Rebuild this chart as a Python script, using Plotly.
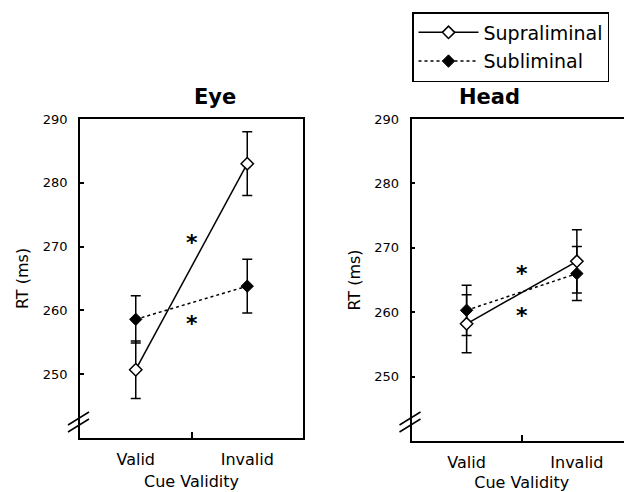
import plotly.graph_objects as go

# ---- data ----
conditions = ["Valid", "Invalid"]
eye_supra = [250.7, 283.0]
eye_supra_err = [4.5, 5.0]
eye_sub = [258.6, 263.8]
eye_sub_err = [3.7, 4.2]
head_supra = [258.2, 267.9]
head_supra_err = [4.5, 4.9]
head_sub = [260.3, 266.0]
head_sub_err = [3.9, 4.2]
y_ticks = [250, 260, 270, 280, 290]
panel_titles = ["Eye", "Head"]
series_names = ["Supraliminal", "Subliminal"]
# significance asterisks (x position between conditions, y value)
eye_stars_y = [271.0, 258.2]
head_stars_y = [266.1, 259.7]

FONT = "DejaVu Sans, Verdana, sans-serif"
OFF = 8                      # page body margin offset
W, H = 632 - OFF, 492 - OFF  # figure size

def px(xs):  # screen x -> paper
    return (xs - OFF) / W

def py(ys):  # screen y -> paper
    return 1 - (ys - OFF) / H

xpos = list(range(len(conditions)))

fig = go.Figure()

def add_panel(xa, ya, supra, supra_err, sub, sub_err, show):
    fig.add_trace(go.Scatter(
        x=xpos, y=sub, name=series_names[1], legendgroup="sub", legendrank=2, showlegend=show,
        mode="lines+markers", xaxis=xa, yaxis=ya,
        line=dict(color="black", width=1.5, dash="3px,3px"),
        marker=dict(symbol="diamond", size=9.5, color="black", line=dict(color="black", width=1)),
        error_y=dict(type="data", array=sub_err, color="black", thickness=1.5, width=5),
    ))
    fig.add_trace(go.Scatter(
        x=xpos, y=supra, name=series_names[0], legendgroup="supra", legendrank=1, showlegend=show,
        mode="lines+markers", xaxis=xa, yaxis=ya,
        line=dict(color="black", width=1.5),
        marker=dict(symbol="diamond", size=9.5, color="white", line=dict(color="black", width=1.5)),
        error_y=dict(type="data", array=supra_err, color="black", thickness=1.5, width=5),
    ))

add_panel("x", "y", eye_supra, eye_supra_err, eye_sub, eye_sub_err, True)
add_panel("x2", "y2", head_supra, head_supra_err, head_sub, head_sub_err, False)

ydom1 = [py(438), py(119)]
ydom2 = [py(441), py(119)]
xdom1 = [px(80), px(303)]
xdom2 = [px(411.5), 1.0]

def xaxis(dom, anchor):
    return dict(domain=dom, range=[-0.5, 1.5], tickvals=xpos, ticktext=conditions, anchor=anchor,
                ticks="", showline=True, linecolor="black", linewidth=1.5, mirror=True,
                showgrid=False, zeroline=False, fixedrange=True, automargin=False,
                tickfont=dict(family=FONT, size=16, color="black"),
                minor=dict(tickvals=[0.5], ticks="inside", ticklen=6, tickcolor="black", tickwidth=1.5),
                title=dict(text="Cue Validity", font=dict(family=FONT, size=16, color="black"), standoff=8),
                ticklabelstandoff=6)

def yaxis(dom, anchor, mirror):
    return dict(domain=dom, range=[240, 290], tickvals=y_ticks, anchor=anchor,
                ticks="inside", ticklen=4, tickcolor="black", tickwidth=1.5,
                showline=True, linecolor="black", linewidth=1.5, mirror=mirror,
                showgrid=False, zeroline=False, automargin=False,
                tickfont=dict(family=FONT, size=13, color="black"),
                ticklabelstandoff=8,
                title=dict(text="RT (ms)", font=dict(family=FONT, size=16, color="black"), standoff=10))

fig.update_layout(
    width=W, height=H, margin=dict(l=0, r=0, t=0, b=0, autoexpand=False),
    paper_bgcolor="white", plot_bgcolor="white",
    xaxis=xaxis(xdom1, "y"), yaxis=yaxis(ydom1, "x", True),
    xaxis2=xaxis(xdom2, "y2"), yaxis2=yaxis(ydom2, "x2", False),
    legend=dict(x=px(412), y=py(12), xanchor="left", yanchor="top",
                bordercolor="black", borderwidth=1.5, bgcolor="white",
                font=dict(family=FONT, size=19, color="black"),
                traceorder="grouped", tracegroupgap=1, itemwidth=60),
    showlegend=True,
)

# titles
for dom, t in zip([xdom1, xdom2], panel_titles):
    fig.add_annotation(text="<b>" + t + "</b>", x=(dom[0] + dom[1]) / 2, y=py(97),
                       xref="paper", yref="paper", showarrow=False, yanchor="middle",
                       font=dict(family=FONT, size=21, color="black"))

# asterisks
for xa, ya, ys, sh in [("x", "y", eye_stars_y, -2), ("x2", "y2", head_stars_y, -1)]:
    for yv in ys:
        fig.add_annotation(text="<b>*</b>", x=0.5, y=yv, xref=xa, yref=ya, showarrow=False,
                           yshift=sh, font=dict(family=FONT, size=22, color="black"))

# axis break marks
for dom in [xdom1, xdom2]:
    x0 = dom[0] * W + OFF
    for dy in [0, 7]:
        fig.add_shape(type="line", xref="paper", yref="paper",
                      x0=px(x0 - 12), x1=px(x0 + 9),
                      y0=py(425 + dy), y1=py(412 + dy),
                      line=dict(color="black", width=1.5))

fig.write_html("out.html")
